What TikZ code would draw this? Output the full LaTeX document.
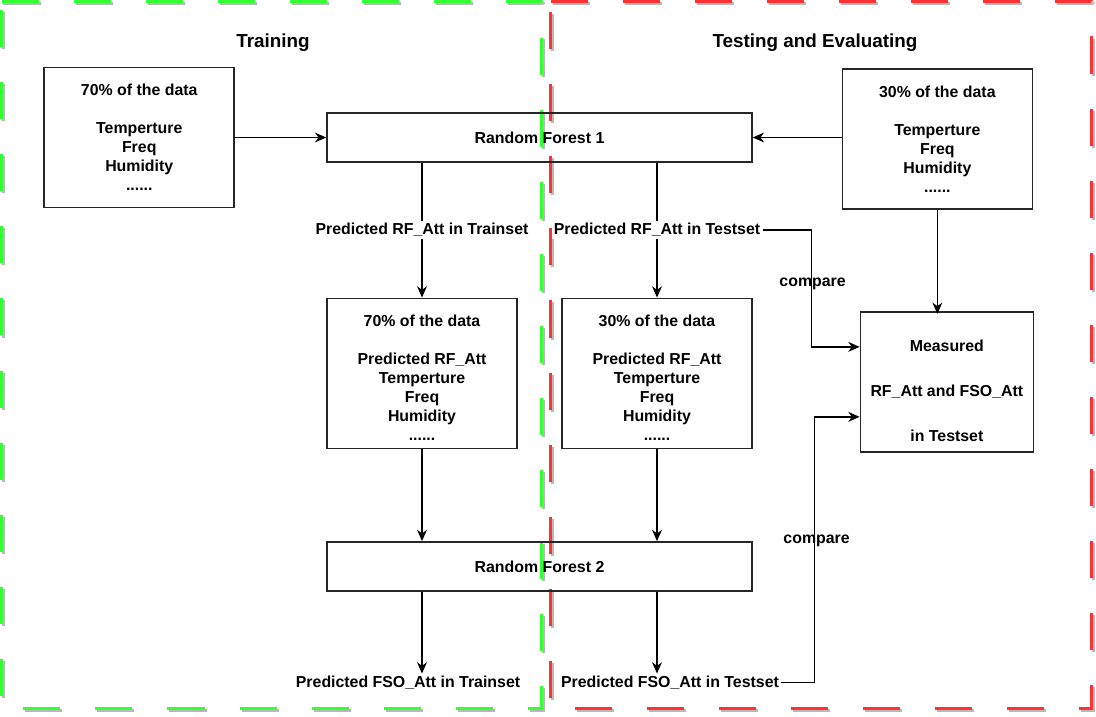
\documentclass[tikz,border=0pt]{standalone}
\usepackage{fontspec}
\setmainfont{Liberation Sans}
\usetikzlibrary{positioning}
\usetikzlibrary{arrows.meta,calc}
\definecolor{zonegreen}{HTML}{33FF33}
\definecolor{zonered}{HTML}{FF3333}
\tikzset{
	databox/.style={draw=black!85, line width=1.1pt, align=center, minimum width=4.75cm, minimum height=3.5cm, font=\bfseries\fontsize{11.3}{13.5}\selectfont},
	forestbox/.style={databox, minimum width=10.625cm, minimum height=1.225cm},
	lbl/.style={inner sep=1.5pt, font=\bfseries\fontsize{11.3}{13.5}\selectfont},
	ttl/.style={font=\bfseries\fontsize{13.4}{16}\selectfont},
	flow/.style={-{Stealth[length=8pt,width=7pt,inset=2.5pt]}, line width=1pt},
	zone/.style={line width=2.1pt, dash pattern=on 0.925cm off 0.875cm},
}

\begin{document}
\begin{tikzpicture}
	\useasboundingbox (0,0) rectangle (27.4,-17.9);
	%%%%%%%%%% zones
	\draw[zone, gray!55] (0.0875,-0.0875) -- (13.5875,-0.0875) -- (13.5875,-17.7625) -- (0.0875,-17.7625) -- cycle;
	\draw[zone, gray!55] (13.8125,-0.0875) -- (27.3375,-0.0875) -- (27.3375,-17.7625) -- (13.8125,-17.7625) -- cycle;
	\draw[zone, zonegreen] (0.0375,-0.0375) -- (13.5375,-0.0375) -- (13.5375,-17.7125) -- (0.0375,-17.7125) -- cycle;
	\draw[zone, zonered] (13.7625,-0.0375) -- (27.2875,-0.0375) -- (27.2875,-17.7125) -- (13.7625,-17.7125) -- cycle;
	\node[ttl] (train) at (6.825,-1.075) {Training};
	\node[ttl] (test) at (20.375,-1.075) {Testing and Evaluating};
	%%%%%%%%%% boxes
	\node[forestbox] (rf1) at (13.4875,-3.4375) {Random Forest 1};
	\node[databox, left =2.28cm of rf1] (trdata) {70\% of the data\\[13.5pt]Temperture\\Freq\\Humidity\\......};
	\node[databox, right =2.22cm of rf1, yshift=-0.04cm] (tsdata) {30\% of the data\\[13.5pt]Temperture\\Freq\\Humidity\\......};
	\node[databox, minimum height=3.75cm, below right =3.37cm and 0cm of rf1.south west] (trpred) {\rule{0pt}{15pt}70\% of the data\\[13.5pt]Predicted RF\_Att\\Temperture\\Freq\\Humidity\\......};
	\node[databox, minimum height=3.75cm, below left =3.37cm and 0cm of rf1.south east] (tspred) {\rule{0pt}{15pt}30\% of the data\\[13.5pt]Predicted RF\_Att\\Temperture\\Freq\\Humidity\\......};
	\node[forestbox, below right =2.3cm and 0cm of trpred.south west] (rf2) {Random Forest 2};
	\node[databox, minimum width=4.325cm, below =2.53cm of tsdata, xshift=0.2375cm] (meas) {\rule{0pt}{21pt}Measured\\[18.4pt]RF\_Att and FSO\_Att\\[18.4pt]in Testset};
	\node[lbl] (fsotr) at ($(rf2.south -| trpred.south)+(-0.35,-2.275)$) {Predicted FSO\_Att in Trainset};
	\node[lbl] (fsots) at ($(rf2.south -| tspred.south)+(0.325,-2.275)$) {Predicted FSO\_Att in Testset};
	%%%%%%%%%% arrows
	\draw[flow] (trdata) -- (rf1);
	\draw[flow] (tsdata.west |- rf1) -- (rf1);
	\draw[flow] (rf1.south -| trpred.north) -- node[lbl, fill=white] (rftr) {Predicted RF\_Att in Trainset} (trpred.north);
	\draw[flow] (rf1.south -| tspred.north) -- node[lbl, fill=white] (rfts) {Predicted RF\_Att in Testset} (tspred.north);
	\draw[flow] (trpred) -- (rf2.north -| trpred.south);
	\draw[flow] (tspred) -- (rf2.north -| tspred.south);
	\draw[flow] (rf2.south -| trpred.south) -- (fsotr.north -| trpred.south);
	\draw[flow] (rf2.south -| tspred.south) -- (fsots.north -| tspred.south);
	\draw[flow] (tsdata.south -| meas.north) ++(-0.2375,0) -- ++(0,-2.6);
	%%%%%%%%%% compare
	\draw[flow] (rfts.east) -| ([xshift=-1.2cm,yshift=0.875cm]meas.west) -- ([yshift=0.875cm]meas.west);
	\draw[flow] (fsots.east) -| ([xshift=-1.125cm,yshift=-0.875cm]meas.west) -- ([yshift=-0.875cm]meas.west);
	\node[lbl] (cmp1) at ($(meas.west)+(-1.175,2.45)$) {compare};
	\node[lbl] (cmp2) at ($(meas.west)+(-1.075,-3.975)$) {compare};
\end{tikzpicture}
\end{document}
